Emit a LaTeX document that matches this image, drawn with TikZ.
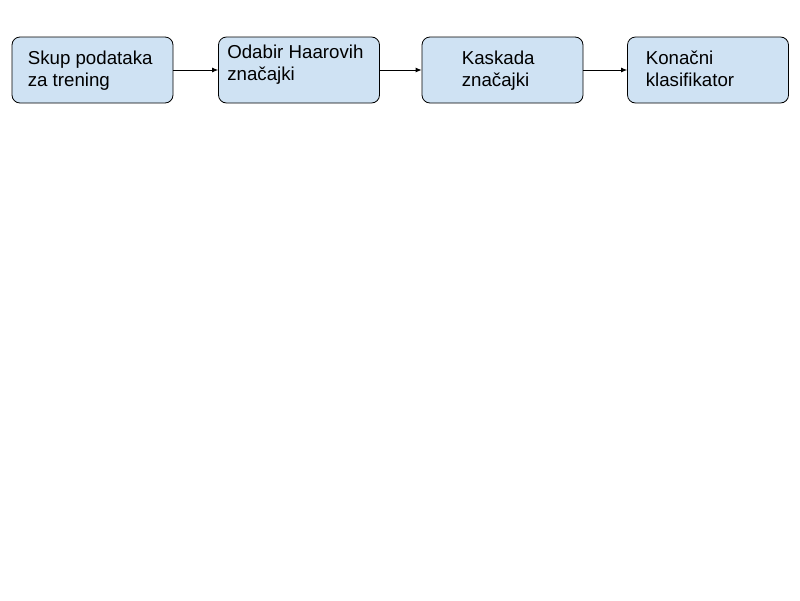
\documentclass[tikz,border=0pt]{standalone}
\usepackage{fontspec}
\setmainfont{Liberation Sans}
\usepackage{xcolor}
\usepackage{tikz}
\usetikzlibrary{arrows.meta,positioning}
\definecolor{boxblue}{HTML}{CFE2F3}

\begin{document}
\begin{tikzpicture}[x=1pt, y=-1pt,
    box/.style={draw=black, line width=0.8pt, fill=boxblue, rounded corners=8pt,
        minimum width=161pt, minimum height=66pt, inner sep=0pt},
    txt/.style={align=left, inner sep=0pt, font=\fontsize{18.7}{22}\selectfont},
    flow/.style={-{Latex[length=6pt, width=5pt]}, line width=0.8pt}]
        \useasboundingbox (0,0) rectangle (800,600);

        % Nodes
        \node[box] (B1) at (92.5,70) {};
        \node[box] (B2) at (299,70) {};
        \node[box] (B3) at (502.5,70) {};
        \node[box] (B4) at (708,70) {};

        % Edges
        \draw[flow] (B1) -- (B2);
        \draw[flow] (B2) -- (B3);
        \draw[flow] (B3) -- (B4);

        % Labels
        \node[txt, anchor=west, right=16pt of B1.west, yshift=-1pt] (T1) {Skup podataka\\za trening};
        \node[txt, anchor=west, right=9pt of B2.west, yshift=5.3pt] (T2) {Odabir Haarovih\\značajki};
        \node[txt, anchor=west, right=40pt of B3.west, yshift=-1pt] (T3) {Kaskada\\značajki};
        \node[txt, anchor=west, right=18.5pt of B4.west, yshift=0.8pt] (T4) {Konačni\\klasifikator};
    \end{tikzpicture}
\end{document}
